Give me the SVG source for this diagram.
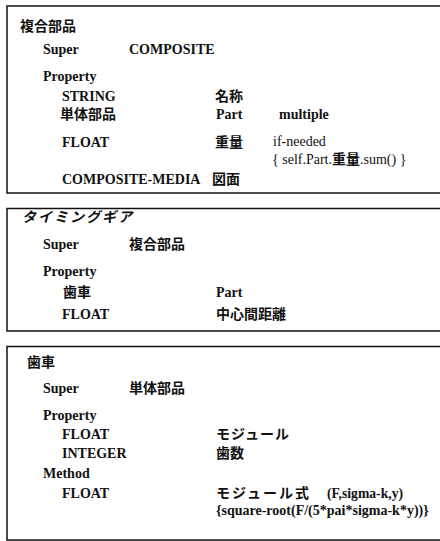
<svg xmlns="http://www.w3.org/2000/svg" width="440" height="541" viewBox="0 0 440 541">
<style>
.box{fill:none;stroke:#111;stroke-width:1.5}
text{font-family:"Liberation Serif","Noto Sans CJK JP",serif;font-size:14px;font-weight:bold;fill:#111}
.j{font-family:"Noto Sans CJK JP","Noto Sans CJK SC",sans-serif;font-size:14px;font-weight:bold}
.r{font-weight:normal}
.k{font-family:"Noto Sans CJK JP",sans-serif;font-style:italic}
</style>
<rect width="440" height="541" fill="#fff"/>
<g id="frame-composite">
<rect class="box" x="7" y="6" width="440" height="187"/>
<text class="j" x="20" y="31">複合部品</text>
<text x="43" y="54">Super</text>
<text x="129" y="54">COMPOSITE</text>
<text x="43" y="81">Property</text>
<text x="62" y="101">STRING</text>
<text class="j" x="215" y="101">名称</text>
<text class="j" x="60" y="119">単体部品</text>
<text x="216" y="119">Part</text>
<text x="279" y="119">multiple</text>
<text x="62" y="147">FLOAT</text>
<text class="j" x="215" y="147">重量</text>
<text class="r" x="273" y="146">if-needed</text>
<text class="r" x="272" y="164">{ self.Part.<tspan font-weight="bold">重量</tspan>.sum() }</text>
<text x="62" y="184">COMPOSITE-MEDIA</text>
<text class="j" x="212" y="184">図面</text>
</g>
<g id="frame-timing-gear">
<rect class="box" x="7" y="208.5" width="440" height="122.5"/>
<text class="j k" x="22" y="222" font-size="13" letter-spacing="2">タイミングギア</text>
<text x="43" y="249">Super</text>
<text class="j" x="129" y="249">複合部品</text>
<text x="43" y="276">Property</text>
<text class="j" x="63" y="297">歯車</text>
<text x="216" y="297">Part</text>
<text x="62" y="319">FLOAT</text>
<text class="j" x="216" y="319">中心間距離</text>
</g>
<g id="frame-gear">
<rect class="box" x="7" y="346.5" width="440" height="193.5"/>
<text class="j" x="27" y="367">歯車</text>
<text x="43" y="393">Super</text>
<text class="j" x="129" y="393">単体部品</text>
<text x="43" y="420">Property</text>
<text x="62" y="439">FLOAT</text>
<text class="j" x="216" y="439" letter-spacing="1">モジュール</text>
<text x="62" y="458">INTEGER</text>
<text class="j" x="216" y="458">歯数</text>
<text x="43" y="478">Method</text>
<text x="62" y="498">FLOAT</text>
<text class="j" x="216" y="498" letter-spacing="2">モジュール式</text>
<text x="327" y="498" textLength="76" lengthAdjust="spacingAndGlyphs">(F,sigma-k,y)</text>
<text x="216" y="515">{square-root(F/(5*pai*sigma-k*y))}</text>
</g>
</svg>
